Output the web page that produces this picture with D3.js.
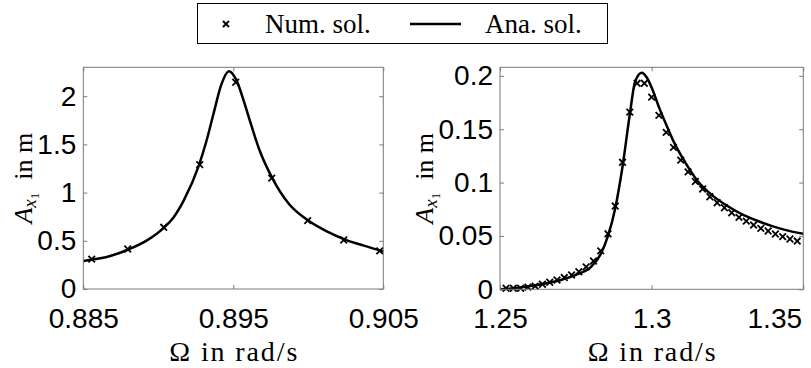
<!DOCTYPE html>
<html lang="en">
<head>
<meta charset="UTF-8">
<style>
  body { margin: 0; background: #fff; }
  svg { display: block; }
  .tick text { font-family: "Liberation Sans", Arial, sans-serif; font-size: 28px; fill: #000; }
  .tick line { stroke: #7a7a7a; }
  .lab { font-family: "Liberation Serif", "Times New Roman", serif; fill: #000; }
</style>
<title>Resonance curves</title>
</head>
<body>
<div id="wrapper"></div>
<script src="https://cdnjs.cloudflare.com/ajax/libs/d3/7.8.5/d3.min.js"></script>
<script>
// left panel data
const leftNumX = [0.88556, 0.88796, 0.89036, 0.89276, 0.89516, 0.89756, 0.89996, 0.90236, 0.90476]
const leftNumY = [0.31, 0.415, 0.64, 1.29, 2.145, 1.15, 0.71, 0.508, 0.395]
const leftAnaX = [0.885, 0.8856, 0.8865, 0.888, 0.8893, 0.8904, 0.891, 0.8917, 0.8927, 0.8932, 0.8937, 0.8942, 0.8947,
  0.8952, 0.8957, 0.8962, 0.8967, 0.8976, 0.8987, 0.900, 0.9012, 0.9025, 0.9037, 0.905]
const leftAnaY = [0.29, 0.305, 0.33, 0.41, 0.51, 0.64, 0.74, 0.92, 1.28, 1.53, 1.83, 2.12, 2.26,
  2.17, 1.95, 1.70, 1.46, 1.15, 0.884, 0.71, 0.60, 0.51, 0.45, 0.39]

// right panel data
const rightNumX = [1.2520, 1.2544, 1.2568, 1.2592, 1.2616, 1.2640, 1.2664, 1.2688, 1.2712, 1.2736,
  1.2760, 1.2784, 1.2808, 1.2832, 1.2856, 1.2880, 1.2904, 1.2928, 1.2952, 1.2976,
  1.3000, 1.3024, 1.3048, 1.3072, 1.3096, 1.3120, 1.3144, 1.3168, 1.3192, 1.3216,
  1.3240, 1.3264, 1.3288, 1.3312, 1.3336, 1.3360, 1.3384, 1.3408, 1.3432, 1.3456, 1.3480]
const rightNumY = [0.001, 0.001, 0.001, 0.002, 0.003, 0.0047, 0.0066, 0.0087, 0.011, 0.0134,
  0.0165, 0.021, 0.0265, 0.036, 0.052, 0.078, 0.119, 0.166, 0.193, 0.193,
  0.180, 0.163, 0.147, 0.133, 0.121, 0.110, 0.101, 0.094, 0.0867, 0.0811,
  0.0764, 0.0717, 0.0674, 0.0639, 0.0602, 0.0571, 0.0546, 0.0518, 0.0493, 0.0471, 0.0452]
const rightAnaX = [1.25, 1.255, 1.26, 1.265, 1.27, 1.275, 1.28, 1.2832, 1.2856, 1.288, 1.2904, 1.2928, 1.2945,
  1.2967, 1.2985, 1.300, 1.3025, 1.305, 1.3075, 1.31, 1.315, 1.32, 1.325, 1.33, 1.335, 1.34, 1.345, 1.35]
const rightAnaY = [0.000, 0.001, 0.003, 0.0055, 0.0087, 0.0135, 0.021, 0.033, 0.050, 0.076, 0.115, 0.164, 0.194,
  0.203, 0.198, 0.189, 0.170, 0.153, 0.137, 0.124, 0.102, 0.088, 0.078, 0.070, 0.064, 0.059, 0.055, 0.052]

// ticks
const leftXTicks = [0.885, 0.895, 0.905]
const leftXLabels = ["0.885", "0.895", "0.905"]
const leftYTicks = [0, 0.5, 1, 1.5, 2]
const leftYLabels = ["0", "0.5", "1", "1.5", "2"]
const rightXTicks = [1.25, 1.3, 1.35]
const rightXLabels = ["1.25", "1.3", "1.35"]
const rightYTicks = [0, 0.05, 0.1, 0.15, 0.2]
const rightYLabels = ["0", "0.05", "0.1", "0.15", "0.2"]

const legendLabels = ["Num. sol.", "Ana. sol."]

const width = 811, height = 368

const svg = d3.select("#wrapper").append("svg")
  .attr("width", width)
  .attr("height", height)

function drawPanel(opt) {
  const xScale = d3.scaleLinear().domain(opt.xDomain).range([opt.left, opt.right])
  const yScale = d3.scaleLinear().domain(opt.yDomain).range([opt.bottom, opt.top])
  const g = svg.append("g")

  // analytic line
  const line = d3.line()
    .x(d => xScale(d[0]))
    .y(d => yScale(d[1]))
    .curve(d3.curveMonotoneX)
  g.append("path")
    .attr("d", line(d3.zip(opt.anaX, opt.anaY)))
    .attr("fill", "none")
    .attr("stroke", "#000")
    .attr("stroke-width", 2.5)

  // numerical markers
  const s = 3.3
  g.selectAll(".mk")
    .data(d3.zip(opt.numX, opt.numY))
    .join("path")
    .attr("class", "mk")
    .attr("d", d => {
      const x = xScale(d[0]), y = yScale(d[1])
      return `M${x - s},${y - s}L${x + s},${y + s}M${x - s},${y + s}L${x + s},${y - s}`
    })
    .attr("stroke", "#000")
    .attr("stroke-width", 1.8)

  // box
  g.append("rect")
    .attr("x", opt.left).attr("y", opt.top)
    .attr("width", opt.right - opt.left).attr("height", opt.bottom - opt.top)
    .attr("fill", "none").attr("stroke", "#7a7a7a").attr("stroke-width", 1)

  const xAxis = g.append("g")
    .attr("class", "x-axis")
    .attr("transform", `translate(0,${opt.bottom})`)
    .call(d3.axisBottom(xScale).tickValues(opt.xTicks).tickSizeInner(-4).tickSizeOuter(0).tickPadding(19)
      .tickFormat((d, i) => opt.xLabels[i]))
  xAxis.select(".domain").remove()

  const xTop = g.append("g")
    .attr("transform", `translate(0,${opt.top})`)
    .call(d3.axisTop(xScale).tickValues(opt.xTicks).tickSizeInner(-4).tickSizeOuter(0).tickFormat(""))
  xTop.select(".domain").remove()

  const yAxis = g.append("g")
    .attr("transform", `translate(${opt.left},0)`)
    .call(d3.axisLeft(yScale).tickValues(opt.yTicks).tickSizeInner(-4).tickSizeOuter(0).tickPadding(7)
      .tickFormat((d, i) => opt.yLabels[i]))
  yAxis.select(".domain").remove()

  const yRight = g.append("g")
    .attr("transform", `translate(${opt.right},0)`)
    .call(d3.axisRight(yScale).tickValues(opt.yTicks).tickSizeInner(-4).tickSizeOuter(0).tickFormat(""))
  yRight.select(".domain").remove()

  g.selectAll(".tick text").attr("fill", "#000")

  // x label
  g.append("text")
    .attr("class", "lab")
    .attr("x", (opt.left + opt.right) / 2)
    .attr("y", 361)
    .attr("text-anchor", "middle")
    .attr("font-size", 28)
    .attr("textLength", 128)
    .attr("lengthAdjust", "spacing")
    .text("\u03A9 in rad/s")

  // y label
  const yl = g.append("text")
    .attr("class", "lab")
    .attr("transform", `translate(${opt.yLabelX},${(opt.top + opt.bottom) / 2}) rotate(-90)`)
    .attr("text-anchor", "middle")
    .attr("font-size", 26)
  yl.append("tspan").attr("font-style", "italic").text("A")
  yl.append("tspan").attr("font-style", "italic").attr("font-size", 19).attr("dy", 4).text("x")
  yl.append("tspan").attr("font-size", 13).attr("dy", 3).text("1")
  yl.append("tspan").attr("dy", -7).text("\u2002in m")

  return xAxis
}

drawPanel({
  xDomain: [0.885, 0.905], yDomain: [0, 2.3],
  left: 83.3, right: 383.3, top: 67.3, bottom: 289,
  numX: leftNumX, numY: leftNumY, anaX: leftAnaX, anaY: leftAnaY,
  xTicks: leftXTicks, xLabels: leftXLabels, yTicks: leftYTicks, yLabels: leftYLabels,
  yLabelX: 32
})

const rightXAxis = drawPanel({
  xDomain: [1.25, 1.35], yDomain: [0, 0.208],
  left: 500, right: 803.3, top: 67.3, bottom: 289.3,
  numX: rightNumX, numY: rightNumY, anaX: rightAnaX, anaY: rightAnaY,
  xTicks: rightXTicks, xLabels: rightXLabels, yTicks: rightYTicks, yLabels: rightYLabels,
  yLabelX: 433
})
// last label is pulled inside the figure, as in the original export
rightXAxis.selectAll(".tick text").filter((d, i) => i === 2).attr("dx", -29)

// legend
const leg = svg.append("g")
leg.append("rect")
  .attr("x", 197.5).attr("y", 3.5).attr("width", 410).attr("height", 40)
  .attr("fill", "#fff").attr("stroke", "#000").attr("stroke-width", 1)
const lx = 226, ly = 24, ls = 3
leg.append("path")
  .attr("d", `M${lx - ls},${ly - ls}L${lx + ls},${ly + ls}M${lx - ls},${ly + ls}L${lx + ls},${ly - ls}`)
  .attr("stroke", "#000").attr("stroke-width", 2)
leg.append("text").attr("class", "lab")
  .attr("x", 265).attr("y", 33).attr("font-size", 27)
  .text(legendLabels[0])
leg.append("line")
  .attr("x1", 410).attr("x2", 461).attr("y1", ly).attr("y2", ly)
  .attr("stroke", "#000").attr("stroke-width", 2.5)
leg.append("text").attr("class", "lab")
  .attr("x", 485).attr("y", 33).attr("font-size", 27)
  .text(legendLabels[1])
</script>
</body>
</html>
